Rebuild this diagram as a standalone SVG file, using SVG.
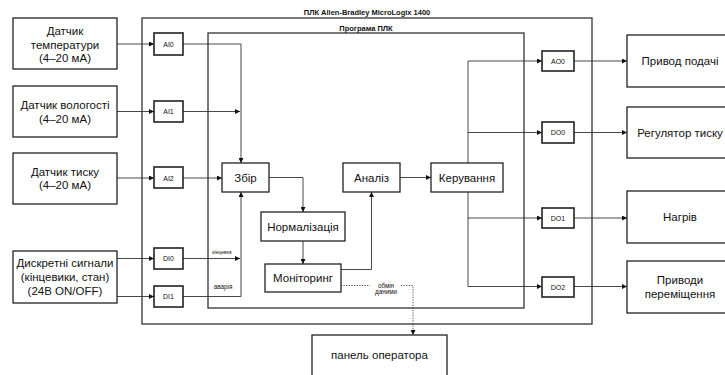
<svg xmlns="http://www.w3.org/2000/svg" width="725" height="375" viewBox="0 0 725 375">
<style>
.box{fill:#fff;stroke:#222;stroke-width:1.3}
.io{fill:#fff;stroke:#222;stroke-width:1.6}
.frame{fill:none;stroke:#333;stroke-width:1.3}
.t{font-family:"Liberation Sans",Arial,sans-serif;font-size:11.5px;fill:#111;text-anchor:middle}
.s{font-family:"Liberation Sans",Arial,sans-serif;font-size:7px;fill:#111;text-anchor:middle}
.h{font-family:"Liberation Sans",Arial,sans-serif;font-size:7.5px;font-weight:bold;fill:#111;text-anchor:middle}
.tiny{font-family:"Liberation Sans",Arial,sans-serif;font-size:6.3px;fill:#111;text-anchor:middle}
.c{fill:none;stroke:#333;stroke-width:0.9}
.d{fill:none;stroke:#333;stroke-width:0.9;stroke-dasharray:1.2 1.4}
</style>
<defs>
<marker id="a" viewBox="0 0 6 6" refX="6" refY="3" markerWidth="5" markerHeight="5" markerUnits="userSpaceOnUse" orient="auto">
<path d="M0,0 L6,3 L0,6 z" fill="#111"/>
</marker>
</defs>
<rect width="725" height="375" fill="#fff"/>
<g id="plc">
<rect class="frame" x="142" y="18" width="450" height="306"/>
<text class="h" x="367" y="15">ПЛК Allen-Bradley MicroLogix 1400</text>
</g>
<g id="program">
<rect class="frame" x="208" y="33" width="316" height="275"/>
<text class="h" x="366" y="30.5">Програма ПЛК</text>
</g>
<g id="connectors">
<path class="c" d="M117,44 H154" marker-end="url(#a)"/>
<path class="c" d="M117,111.5 H154" marker-end="url(#a)"/>
<path class="c" d="M117,178 H154" marker-end="url(#a)"/>
<path class="c" d="M117,258.5 H154" marker-end="url(#a)"/>
<path class="c" d="M117,296.5 H154" marker-end="url(#a)"/>
<path class="c" d="M183,44 H241 V163" marker-end="url(#a)"/>
<path class="c" d="M183,111.5 H240" marker-end="url(#a)"/>
<path class="c" d="M183,178 H222" marker-end="url(#a)"/>
<path class="c" d="M183,258.5 H240" marker-end="url(#a)"/>
<path class="c" d="M183,296.5 H241 V192" marker-end="url(#a)"/>
<path class="c" d="M269,177.5 H303 V212" marker-end="url(#a)"/>
<path class="c" d="M303,241 V264" marker-end="url(#a)"/>
<path class="c" d="M341,269.5 H371.5 V192" marker-end="url(#a)"/>
<path class="c" d="M400,177.5 H431" marker-end="url(#a)"/>
<path class="c" d="M468,163 V61 H542" marker-end="url(#a)"/>
<path class="c" d="M468,132.5 H542" marker-end="url(#a)"/>
<path class="c" d="M468,192 V286.5 H542" marker-end="url(#a)"/>
<path class="c" d="M468,218 H542" marker-end="url(#a)"/>
<path class="c" d="M574,61 H627" marker-end="url(#a)"/>
<path class="c" d="M574,132.5 H627" marker-end="url(#a)"/>
<path class="c" d="M574,218 H627" marker-end="url(#a)"/>
<path class="c" d="M574,286.5 H627" marker-end="url(#a)"/>
<path class="d" d="M341,285.5 H370 M401,285.5 H413 V335" marker-end="url(#a)"/>
<text class="tiny" x="222" y="254" style="font-size:5px">кінцевик</text>
<text class="tiny" x="223" y="289">аварія</text>
<text class="tiny" x="386" y="287.5">обмін</text>
<text class="tiny" x="386" y="294">даними</text>
</g>
<g id="sensor-temp">
<rect class="box" x="13" y="18" width="104" height="51"/>
<text class="t" x="65" y="35">Датчик</text>
<text class="t" x="65" y="48.5">температури</text>
<text class="t" x="65" y="62">(4–20 мА)</text>
</g>
<g id="sensor-hum">
<rect class="box" x="13" y="86" width="104" height="51"/>
<text class="t" x="65" y="109">Датчик вологості</text>
<text class="t" x="65" y="122.5">(4–20 мА)</text>
</g>
<g id="sensor-press">
<rect class="box" x="13" y="153" width="104" height="51"/>
<text class="t" x="65" y="175.5">Датчик тиску</text>
<text class="t" x="65" y="189">(4–20 мА)</text>
</g>
<g id="discrete">
<rect class="box" x="13" y="251" width="104" height="52"/>
<text class="t" x="65" y="266.5">Дискретні сигнали</text>
<text class="t" x="65" y="281">(кінцевики, стан)</text>
<text class="t" x="65" y="295">(24В ON/OFF)</text>
</g>
<g id="ai0"><rect class="io" x="154" y="33" width="29" height="22"/><text class="s" x="168.5" y="46.5">AI0</text></g>
<g id="ai1"><rect class="io" x="154" y="101" width="29" height="21"/><text class="s" x="168.5" y="114">AI1</text></g>
<g id="ai2"><rect class="io" x="154" y="167" width="29" height="21"/><text class="s" x="168.5" y="180.5">AI2</text></g>
<g id="di0"><rect class="io" x="154" y="248" width="29" height="21"/><text class="s" x="168.5" y="261">DI0</text></g>
<g id="di1"><rect class="io" x="154" y="286" width="29" height="21"/><text class="s" x="168.5" y="299">DI1</text></g>
<g id="zbir"><rect class="box" x="222" y="163" width="47" height="29"/><text class="t" x="245.5" y="181.5">Збір</text></g>
<g id="norm"><rect class="box" x="261" y="212" width="84" height="29"/><text class="t" x="303" y="230.5">Нормалізація</text></g>
<g id="monitor"><rect class="box" x="265" y="264" width="76" height="28"/><text class="t" x="303" y="282">Моніторинг</text></g>
<g id="analiz"><rect class="box" x="343" y="163" width="57" height="29"/><text class="t" x="371.5" y="181.5">Аналіз</text></g>
<g id="keruv"><rect class="box" x="431" y="163" width="72" height="29"/><text class="t" x="467" y="181.5">Керування</text></g>
<g id="ao0"><rect class="io" x="542" y="51" width="32" height="20"/><text class="s" x="558" y="63.5">AO0</text></g>
<g id="do0"><rect class="io" x="542" y="122" width="32" height="21"/><text class="s" x="558" y="135">DO0</text></g>
<g id="do1"><rect class="io" x="542" y="208" width="32" height="20"/><text class="s" x="558" y="220.5">DO1</text></g>
<g id="do2"><rect class="io" x="542" y="277" width="32" height="20"/><text class="s" x="558" y="289.5">DO2</text></g>
<g id="act-feed"><rect class="box" x="627" y="35" width="106" height="52"/><text class="t" x="680" y="65">Привод подачі</text></g>
<g id="act-press"><rect class="box" x="627" y="107" width="106" height="51"/><text class="t" x="680" y="136.5">Регулятор тиску</text></g>
<g id="act-heat"><rect class="box" x="627" y="191" width="106" height="52"/><text class="t" x="680" y="221">Нагрів</text></g>
<g id="act-move"><rect class="box" x="627" y="261" width="106" height="52"/><text class="t" x="680" y="283.5">Приводи</text><text class="t" x="680" y="297.5">переміщення</text></g>
<g id="panel"><rect class="box" x="312" y="335" width="135" height="45"/><text class="t" x="379.5" y="359">панель оператора</text></g>
</svg>
